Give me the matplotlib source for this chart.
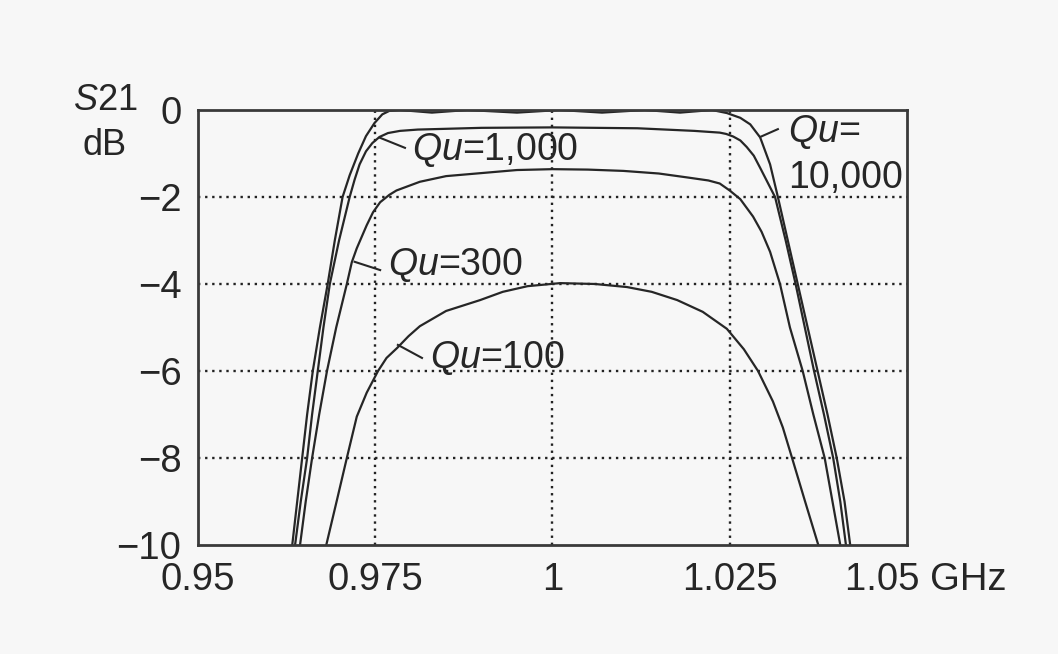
import matplotlib
matplotlib.use('Agg')
import matplotlib.pyplot as pl
import matplotlib.transforms as mtransforms

pl.rcParams['font.family'] = ['Liberation Sans', 'DejaVu Sans']
pl.rcParams['mathtext.fontset'] = 'custom'
pl.rcParams['mathtext.it'] = 'Liberation Sans:italic'
pl.rcParams['mathtext.rm'] = 'Liberation Sans'

# frequency in GHz, S21 in dB
f_q10000 = [0.9633, 0.9640, 0.9647, 0.9654, 0.9662, 0.9672, 0.9683, 0.9693, 0.9704,
            0.9714, 0.9726, 0.9737, 0.9749, 0.9760, 0.9770, 0.9785,
            0.9830, 0.9880, 0.9950, 1.0010, 1.0070, 1.0130, 1.0180, 1.0225,
            1.0246, 1.0265, 1.0279, 1.0293, 1.0307, 1.0318, 1.0332, 1.0346, 1.0360,
            1.0374, 1.0388, 1.0401, 1.0412, 1.0420]
s_q10000 = [-10.0, -9.0, -8.0, -7.0, -6.0, -5.0, -4.0, -3.0, -2.0,
            -1.5, -1.0, -0.6, -0.3, -0.1, -0.02, 0.0,
            -0.06, 0.0, -0.06, 0.0, -0.06, 0.0, -0.06, 0.0,
            -0.07, -0.18, -0.33, -0.63, -1.25, -2.0, -3.0, -4.0, -5.0,
            -6.0, -7.0, -8.0, -9.0, -10.0]

f_q1000 = [0.9637, 0.9645, 0.9654, 0.9661, 0.9669, 0.9677, 0.9686, 0.9699, 0.9714,
           0.9721, 0.9728, 0.9737, 0.9746, 0.9756, 0.9768, 0.9785, 0.9810, 0.9900,
           1.0000, 1.0120, 1.0200, 1.0236, 1.0245, 1.0255, 1.0265, 1.0274, 1.0284,
           1.0293, 1.0314, 1.0329, 1.0343, 1.0356, 1.0369, 1.0383, 1.0396, 1.0406,
           1.0414]
s_q1000 = [-10.0, -9.0, -8.0, -7.0, -6.0, -5.0, -4.0, -3.0, -2.0,
           -1.6, -1.25, -0.95, -0.76, -0.62, -0.53, -0.48, -0.45, -0.41,
           -0.40, -0.42, -0.48, -0.52, -0.55, -0.61, -0.7, -0.85, -1.05,
           -1.33, -2.0, -3.0, -4.0, -5.0, -6.0, -7.0, -8.0, -9.0,
           -10.0]

f_q300 = [0.9644, 0.9652, 0.9661, 0.9671, 0.9682, 0.9695, 0.9710, 0.9717, 0.9724,
          0.9738, 0.9747, 0.9757, 0.9770, 0.9780, 0.9813, 0.9850, 0.9900, 0.9950,
          1.0000, 1.0050, 1.0100, 1.0150, 1.0190, 1.0220, 1.0236, 1.0250, 1.0265,
          1.0283, 1.0295, 1.0307, 1.0321, 1.0335, 1.0344, 1.0353, 1.0368, 1.0384,
          1.0395, 1.0406]
s_q300 = [-10.0, -9.0, -8.0, -7.0, -6.0, -5.0, -4.0, -3.5, -3.18,
          -2.65, -2.35, -2.12, -1.95, -1.85, -1.65, -1.52, -1.45, -1.38,
          -1.36, -1.37, -1.40, -1.46, -1.55, -1.62, -1.69, -1.85, -2.05,
          -2.45, -2.8, -3.26, -4.0, -5.0, -5.5, -6.0, -7.0, -8.0,
          -9.0, -10.0]

f_q100 = [0.9681, 0.9696, 0.9710, 0.9724, 0.9738, 0.9754, 0.9766, 0.9781, 0.9797,
          0.9813, 0.9850, 0.9898, 0.9930, 0.9965, 1.0011, 1.0060, 1.0105, 1.0140,
          1.0176, 1.0212, 1.0246, 1.0270, 1.0290, 1.0311, 1.0325, 1.0338, 1.0356,
          1.0375]
s_q100 = [-10.0, -8.97, -8.0, -7.05, -6.5, -6.0, -5.7, -5.47, -5.2,
          -4.97, -4.62, -4.37, -4.18, -4.05, -3.98, -4.0, -4.07, -4.18,
          -4.37, -4.64, -5.03, -5.5, -6.0, -6.7, -7.3, -8.0, -8.98,
          -10.0]

x_ticks = [0.95, 0.975, 1.0, 1.025]
x_ticklabels = ['0.95', '0.975', '1', '1.025']
y_ticks = [0, -2, -4, -6, -8, -10]

bg = '#f7f7f7'
ink = '#262626'

fig = pl.figure(figsize=(10.58, 6.54), dpi=100, facecolor=bg)
ax = fig.add_axes([0.1871, 0.1667, 0.6701, 0.6651], facecolor=bg)

for f, s in [(f_q10000, s_q10000), (f_q1000, s_q1000), (f_q300, s_q300), (f_q100, s_q100)]:
    ax.plot(f, s, color=ink, lw=1.6, solid_joinstyle='round')

ax.set_xlim(0.95, 1.05)
ax.set_ylim(-10, 0)
ax.set_xticks(x_ticks)
ax.set_xticklabels(x_ticklabels)
ax.set_yticks(y_ticks)
ax.set_yticklabels([str(v).replace('-', '\u2212') for v in y_ticks])
ax.tick_params(length=0, labelsize=27.5, colors=ink)
ax.tick_params(axis='x', pad=12)
ax.tick_params(axis='y', pad=12)

# interior dotted grid
for gx in [0.975, 1.0, 1.025]:
    ax.axvline(gx, color='#222222', lw=1.7, ls=(0, (1, 2)), zorder=0)
for gy in [-2, -4, -6, -8]:
    ax.axhline(gy, color='#222222', lw=1.7, ls=(0, (1, 2)), zorder=0)

for sp in ax.spines.values():
    sp.set_linewidth(2.0)
    sp.set_color('#3a3a3a')

# last x tick label with unit
trans = mtransforms.blended_transform_factory(ax.transData, ax.transAxes)
ax.annotate('1.05 GHz', xy=(1.05, 0), xycoords=trans, xytext=(-62, -45),
            textcoords='offset pixels', ha='left', va='baseline', fontsize=27.5, color=ink)

# curve labels with leaders
lab = dict(fontsize=27, color=ink, ha='left', va='baseline')
ax.plot([0.9757, 0.9792], [-0.64, -0.87], color=ink, lw=1.5)
ax.text(0.9802, -1.14, r'$Qu$=1,000', **lab)
ax.plot([0.9721, 0.9757], [-3.49, -3.68], color=ink, lw=1.5)
ax.text(0.9768, -3.79, r'$Qu$=300', **lab)
ax.plot([0.9782, 0.9816], [-5.40, -5.70], color=ink, lw=1.5)
ax.text(0.9827, -5.93, r'$Qu$=100', **lab)
ax.plot([1.0293, 1.0318], [-0.62, -0.44], color=ink, lw=1.5)
ax.text(1.0332, -0.74, r'$Qu$=', clip_on=False, **lab)
ax.text(1.0332, -1.79, '10,000', clip_on=False, **lab)

fig.text(105 / 1058, 1 - 110 / 654, r'$S$21', fontsize=26, color=ink, ha='center', va='baseline')
fig.text(105 / 1058, 1 - 155 / 654, 'dB', fontsize=26, color=ink, ha='center', va='baseline')

fig.savefig('out.png', dpi=100, facecolor=bg)
